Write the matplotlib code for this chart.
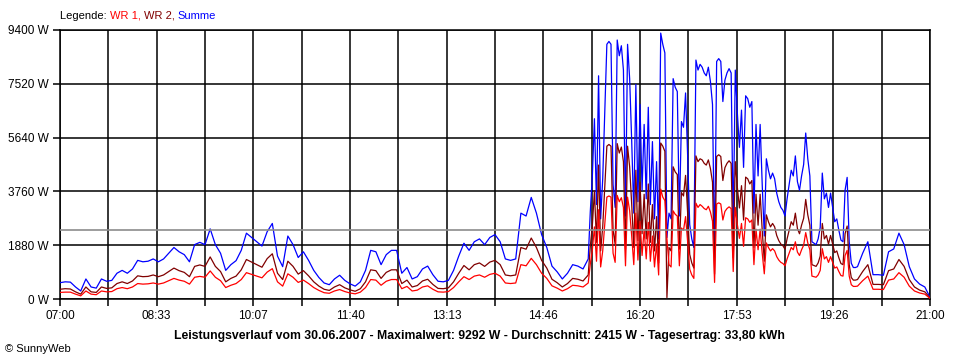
import numpy as np
import matplotlib
matplotlib.use("Agg")
import matplotlib.pyplot as plt

plt.rcParams['font.family'] = ['Liberation Sans', 'DejaVu Sans']

# ---- data (minutes after 07:00) ----
# morning/afternoon segment, 5-minute samples 07:00 .. 15:25
wr1_a = [230, 240, 240, 170, 110, 280, 170, 150, 280, 250,
         260, 360, 400, 360, 420, 540, 520, 530, 560, 520,
         560, 640, 720, 660, 620, 520, 760, 790, 760, 980,
         760, 640, 400, 480, 540, 680, 920, 860, 800, 740,
         940, 1060, 600, 450, 880, 760, 580, 660, 540, 400,
         300, 220, 200, 280, 330, 260, 210, 180, 240, 400,
         680, 660, 480, 620, 680, 680, 360, 440, 280, 310,
         420, 460, 340, 250, 240, 260, 400, 600, 780, 680,
         800, 840, 760, 860, 900, 800, 560, 540, 560, 1200,
         1160, 1420, 1200, 900, 720, 460, 380, 280, 360, 480,
         460, 420]
wr2_a = [340, 360, 350, 250, 170, 420, 250, 230, 420, 370,
         390, 540, 600, 540, 630, 810, 780, 790, 840, 780,
         840, 960, 1080, 990, 930, 780, 1140, 1190, 1140, 1470,
         1140, 960, 600, 720, 800, 1020, 1380, 1290, 1200, 1110,
         1410, 1580, 900, 680, 1320, 1140, 870, 990, 810, 600,
         450, 340, 300, 420, 500, 390, 320, 270, 360, 600,
         1020, 990, 720, 930, 1020, 1020, 540, 660, 420, 470,
         630, 690, 510, 370, 360, 390, 600, 900, 1170, 1020,
         1200, 1260, 1140, 1290, 1350, 1200, 840, 810, 840, 1800,
         1740, 2130, 1800, 1350, 1080, 690, 570, 420, 540, 720,
         690, 630]
# cloudy-bright segment, 2-minute samples 15:30 .. 19:48
wr1_b = [560, 1220, 1720, 2520, 1320, 3120, 1120, 1680, 2640, 3560,
         3600, 3560, 1600, 1280, 3620, 3400, 3540, 3200, 1160, 3560,
         3080, 2200, 1200, 3000, 1360, 2720, 1520, 2440, 1400, 2680,
         1320, 2200, 1120, 1920, 840, 3842, 3560, 3440, 2100, 1200,
         1120, 3080, 2960, 2900, 1160, 2480, 2400, 2880, 2000, 1040,
         840, 720, 3350, 3200, 3300, 3240, 3160, 3120, 3240, 3040,
         2720, 580, 3320, 3360, 3320, 2760, 3060, 3160, 3220, 3160,
         960, 3200, 2600, 2120, 2640, 1840, 2840, 2800, 2680, 2760,
         1200, 2440, 1720, 2440, 1600, 880, 1960, 1800, 1680, 1760,
         1680, 1480, 1360, 1280, 1240, 1160, 1400, 1600, 1800, 1720,
         2000, 1640, 1520, 1720, 1880, 2320, 1960, 1720, 800, 780,
         760, 840, 1000, 1760, 1400, 1480, 1280, 1480, 1280, 1080,
         1120, 960, 820, 800, 1520, 1700, 800, 500, 440, 440]
wr2_b = [840, 1830, 2580, 3780, 1980, 4680, 1680, 2520, 3960, 5340,
         5400, 5340, 2400, 1920, 5430, 5100, 5310, 4800, 1740, 5340,
         4620, 3300, 1800, 4500, 2040, 4080, 2280, 3660, 2100, 4020,
         1980, 3300, 1680, 2880, 1260, 5450, 5340, 5160, 50, 1800,
         1680, 4620, 4440, 4350, 1740, 3720, 3600, 4320, 3000, 1560,
         1260, 1080, 5000, 4800, 4900, 4860, 4740, 4680, 4860, 4560,
         4080, 870, 4980, 5040, 4980, 4140, 4590, 4740, 4830, 4740,
         1440, 4800, 3900, 3180, 3960, 2760, 4260, 4200, 4020, 4140,
         1800, 3660, 2580, 3660, 2400, 1320, 2940, 2700, 2520, 2640,
         2520, 2220, 2040, 1920, 1860, 1740, 2100, 2400, 2700, 2580,
         3000, 2460, 2280, 2580, 2820, 3480, 2940, 2580, 1200, 1170,
         1140, 1260, 1500, 2640, 2100, 2220, 1920, 2220, 1920, 1620,
         1680, 1440, 1240, 1200, 2280, 2550, 1200, 750, 660, 660]
# evening segment, 5-minute samples 19:50 .. 21:00
wr1_c = [450, 640, 800, 340, 340, 330, 660, 700, 920, 760, 450, 280, 210, 170, 20]
wr2_c = [680, 960, 1200, 510, 510, 500, 990, 1050, 1380, 1140, 680, 420, 310, 250, 40]

average_w = 2415
y_ticks = [0, 1880, 3760, 5640, 7520, 9400]
time_labels = ["07:00", "08:33", "10:07", "11:40", "13:13",
               "14:46", "16:20", "17:53", "19:26", "21:00"]
legend_items = [("WR 1, ", '#FF0000'), ("WR 2, ", '#800000'), ("Summe", '#0000FF')]
title = ("Leistungsverlauf vom 30.06.2007 - Maximalwert: 9292 W - "
         "Durchschnitt: 2415 W - Tagesertrag: 33,80 kWh")

# ---- build series ----
t = np.concatenate([np.arange(0, 510, 5), np.arange(510, 770, 2), np.arange(770, 841, 5)])
wr1 = np.array(wr1_a + wr1_b + wr1_c, dtype=float)
wr2 = np.array(wr2_a + wr2_b + wr2_c, dtype=float)
summe = wr1 + wr2

fig = plt.figure(figsize=(9.6, 3.6), dpi=100)
ax = fig.add_axes([60 / 960, 1 - 299 / 360, 870 / 960, 269 / 360])

ax.plot(t, summe, color='#0000FF', lw=0.9, zorder=3)
ax.plot(t, wr2, color='#800000', lw=0.9, zorder=4)
ax.plot(t, wr1, color='#FF0000', lw=0.9, zorder=5)
ax.axhline(average_w, color='#8c8c8c', lw=1.2, zorder=6)

ax.set_xlim(0, 840)
ax.set_ylim(0, 9400)
xt = np.linspace(0, 840, 19)
ax.set_xticks(xt)
ax.set_xticklabels([time_labels[i // 2] if i % 2 == 0 else '' for i in range(19)], fontsize=8.5)
ax.set_yticks(y_ticks)
ax.set_yticklabels([f"{v} W" for v in y_ticks], fontsize=8.5)
ax.grid(True, color='black', lw=1.1, zorder=1)
ax.set_axisbelow(True)
for s in ax.spines.values():
    s.set_color('black')
    s.set_linewidth(1.1)
ax.tick_params(length=5, width=1.1, direction='out', pad=3, colors='black')

# legend line
prev = fig.text(60 / 960, 1 - 21 / 360, "Legende: ", fontsize=8, va='bottom', ha='left', color='black')
for txt, col in legend_items:
    prev = fig.add_artist(matplotlib.text.Annotation(
        txt, xy=(1, 0), xycoords=prev, fontsize=8, color=col,
        va='bottom', ha='left', annotation_clip=False))

fig.text(479 / 960, 1 - 336 / 360, title, fontsize=8.8, fontweight='bold',
         ha='center', va='center', color='black')
fig.text(5 / 960, 1 - 349 / 360, "\u00a9 SunnyWeb", fontsize=8, ha='left', va='center', color='black')

fig.savefig("out.png", dpi=100)
